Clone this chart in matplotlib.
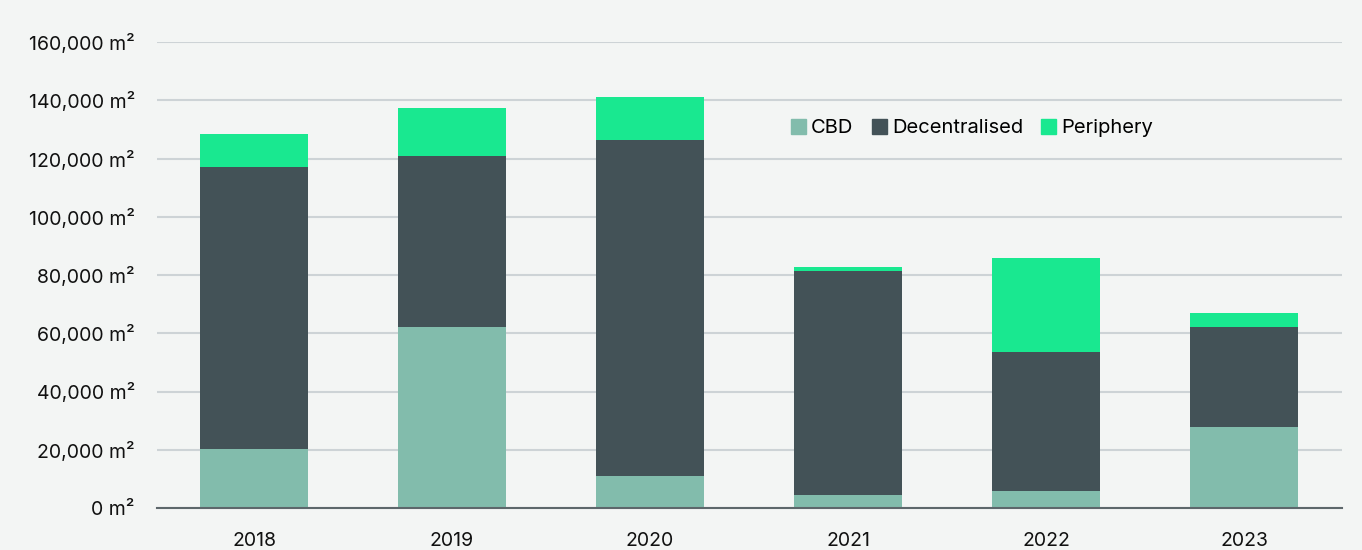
import matplotlib.pyplot as plt
import numpy as np
from matplotlib.ticker import FuncFormatter
from matplotlib.patches import Patch

years = ['2018', '2019', '2020', '2021', '2022', '2023']
cbd = [20300, 62100, 11000, 4500, 5800, 27800]
decentralised = [96800, 58800, 115400, 76900, 47800, 34300]
periphery = [11300, 16400, 14700, 1300, 32200, 4900]

colors = {'CBD': '#82bcac', 'Decentralised': '#435257', 'Periphery': '#19e890'}
bg = '#f3f5f4'

plt.rcParams['font.family'] = ['Inter', 'DejaVu Sans']

fig = plt.figure(figsize=(13.62, 5.5), dpi=100, facecolor=bg)
ax = fig.add_axes([157 / 1362, 1 - 508 / 550, (1342 - 157) / 1362, (508 - 42) / 550])
ax.set_facecolor(bg)

x = np.arange(len(years))
w = 0.545
bottom = np.zeros(len(years))
for name, vals in [('CBD', cbd), ('Decentralised', decentralised), ('Periphery', periphery)]:
    ax.bar(x, vals, w, bottom=bottom, color=colors[name], zorder=3, label=name)
    bottom += np.array(vals)

ax.set_xlim(-0.49, 5.495)
ax.set_ylim(0, 160000)
ax.set_yticks(np.arange(0, 160001, 20000))
ax.yaxis.set_major_formatter(FuncFormatter(lambda v, p: '{:,.0f} m\u00b2'.format(v)))
ax.set_xticks(x)
ax.set_xticklabels(years)
ax.grid(axis='y', color='#cdd3d6', linewidth=1.5, zorder=0)
for s in ['top', 'right', 'left']:
    ax.spines[s].set_visible(False)
ax.spines['bottom'].set_color('#5d676b')
ax.spines['bottom'].set_linewidth(1.5)
ax.spines['bottom'].set_zorder(4)
ax.tick_params(axis='both', length=0, labelsize=14, colors='#111111')
ax.tick_params(axis='y', pad=16)
ax.tick_params(axis='x', pad=17)

handles = [Patch(color=colors[n]) for n in colors]
ax.legend(handles, list(colors), loc='center', bbox_to_anchor=((972 - 157) / 1185, (508 - 128) / 466),
          ncol=3, frameon=False, fontsize=14.5, handlelength=0.75, handleheight=0.75,
          handletextpad=0.25, columnspacing=0.9)

fig.savefig('out.png', dpi=100, facecolor=bg)
